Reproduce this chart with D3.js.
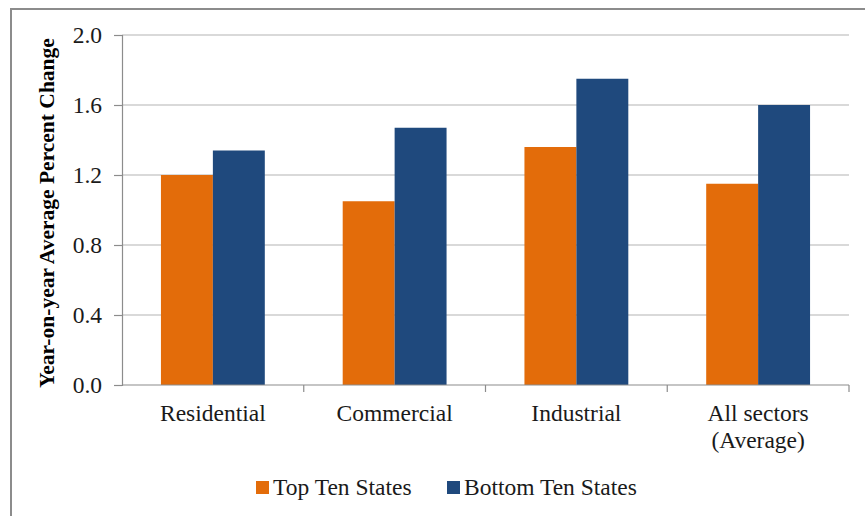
<!DOCTYPE html>
<html>
<head>
<meta charset="utf-8">
<script src="https://cdn.jsdelivr.net/npm/d3@7"></script>
<style>
  html, body { margin: 0; padding: 0; background: #fff; }
  svg { display: block; }
  svg text { font-family: "Liberation Serif", "Times New Roman", serif; }
</style>
</head>
<body>
<svg id="chart" width="865" height="516"></svg>
<script>
// data
const categories = ['Residential', 'Commercial', 'Industrial', 'All sectors\n(Average)'];
const seriesNames = ['Top Ten States', 'Bottom Ten States'];
const topTen = [1.20, 1.05, 1.36, 1.15];
const bottomTen = [1.34, 1.47, 1.75, 1.60];
const yTicks = [0, 0.4, 0.8, 1.2, 1.6, 2.0];
const colors = ['#e36c0a', '#1f497d'];

const width = 865;
const height = 516;
const margins = { top: 35, right: 16, bottom: 131, left: 122 };

const svg = d3.select('#chart');

// outer chart border
svg.append('rect')
  .attr('x', 11).attr('y', 9)
  .attr('width', width).attr('height', height)
  .attr('fill', 'none')
  .attr('stroke', '#8c8c8c')
  .attr('stroke-width', 2);

const x0 = d3.scaleBand()
  .domain(categories)
  .range([margins.left, width - margins.right])
  .paddingInner(0).paddingOuter(0);

const x1 = d3.scaleBand()
  .domain(seriesNames)
  .range([0, x0.bandwidth()])
  .paddingInner(0).paddingOuter(0.75);

const y = d3.scaleLinear()
  .domain([0, 2])
  .range([height - margins.bottom, margins.top]);

// gridlines
svg.append('g')
  .selectAll('line')
  .data(yTicks.filter(d => d > 0))
  .join('line')
  .attr('x1', margins.left).attr('x2', width - margins.right)
  .attr('y1', d => y(d)).attr('y2', d => y(d))
  .attr('stroke', '#b3b3b3')
  .attr('stroke-width', 1.2);

// bars
const rows = categories.map((c, i) => ({ cat: c, vals: [topTen[i], bottomTen[i]] }));
const groups = svg.append('g')
  .selectAll('g')
  .data(rows)
  .join('g')
  .attr('transform', d => `translate(${x0(d.cat)},0)`);

groups.selectAll('rect')
  .data(d => d.vals.map((v, j) => ({ name: seriesNames[j], value: v, j })))
  .join('rect')
  .attr('x', d => x1(d.name))
  .attr('width', x1.bandwidth())
  .attr('y', d => y(d.value))
  .attr('height', d => y(0) - y(d.value))
  .attr('fill', d => colors[d.j]);

// y axis
const yAxis = svg.append('g')
  .attr('transform', `translate(${margins.left},0)`)
  .call(d3.axisLeft(y).tickValues(yTicks).tickFormat(d3.format('.1f')).tickSizeOuter(0).tickSize(8).tickPadding(12));
yAxis.attr('font-family', null).attr('font-size', null);
yAxis.select('.domain').attr('stroke', '#8c8c8c').attr('stroke-width', 1.2);
yAxis.selectAll('.tick line').attr('stroke', '#8c8c8c').attr('stroke-width', 1.2);
yAxis.selectAll('.tick text')
  .style('font-size', '23.5px')
  .attr('fill', '#1a1a1a');

// x axis: ticks between categories
const xAxis = svg.append('g');
xAxis.append('line')
  .attr('x1', margins.left).attr('x2', width - margins.right)
  .attr('y1', y(0)).attr('y2', y(0))
  .attr('stroke', '#8c8c8c').attr('stroke-width', 1.2);
xAxis.selectAll('line.tk')
  .data(categories)
  .join('line')
  .attr('class', 'tk')
  .attr('x1', d => x0(d) + x0.bandwidth()).attr('x2', d => x0(d) + x0.bandwidth())
  .attr('y1', y(0)).attr('y2', y(0) + 7)
  .attr('stroke', '#8c8c8c').attr('stroke-width', 1.2);

const catLabels = xAxis.selectAll('text')
  .data(categories)
  .join('text')
  .attr('x', d => x0(d) + x0.bandwidth() / 2)
  .attr('y', y(0) + 36)
  .attr('text-anchor', 'middle')
  .style('font-size', '23.5px')
  .attr('fill', '#1a1a1a');
catLabels.each(function (d) {
  const t = d3.select(this);
  d.split('\n').forEach((line, i) => {
    t.append('tspan')
      .attr('x', x0(d) + x0.bandwidth() / 2)
      .attr('dy', i === 0 ? 0 : 27)
      .text(line);
  });
});

// y axis title
svg.append('text')
  .attr('transform', `translate(54,${(margins.top + y(0)) / 2 + 3}) rotate(-90)`)
  .attr('text-anchor', 'middle')
  .style('font-size', '21.5px')
  .style('font-weight', 'bold')
  .attr('fill', '#000')
  .text('Year-on-year Average Percent Change');

// legend
const legendX = [256, 447];
const legend = svg.append('g')
  .selectAll('g')
  .data(seriesNames)
  .join('g')
  .attr('transform', (d, i) => `translate(${legendX[i]},481)`);
legend.append('rect')
  .attr('width', 13).attr('height', 13)
  .attr('fill', (d, i) => colors[i]);
legend.append('text')
  .attr('x', 17).attr('y', 14)
  .style('font-size', '23.5px')
  .attr('fill', '#1a1a1a')
  .text(d => d);
</script>
</body>
</html>
